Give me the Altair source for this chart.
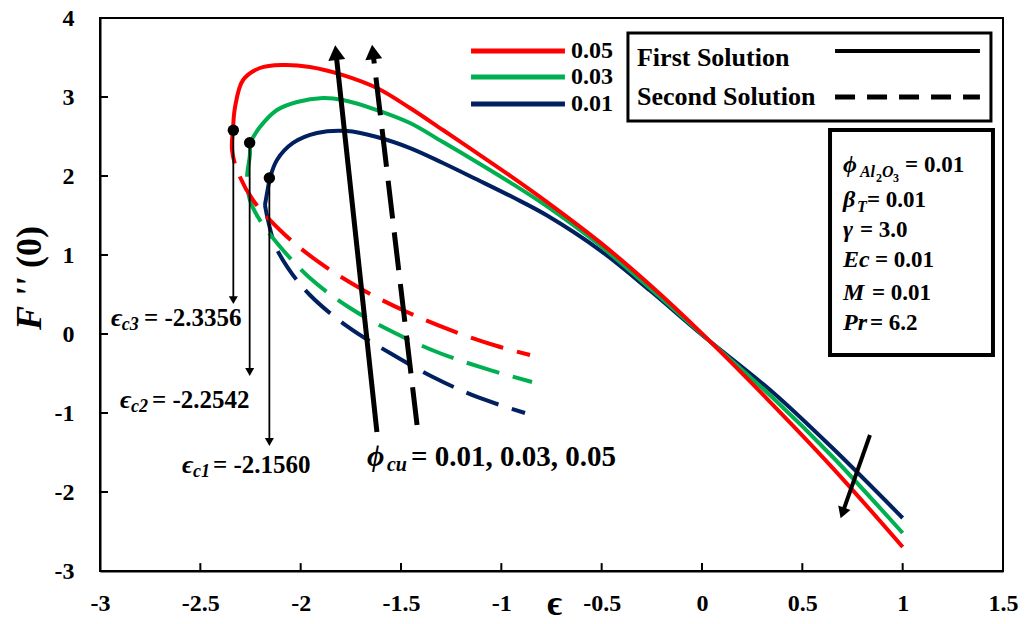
import altair as alt
import pandas as pd

# ---------------- data ----------------
phi_labels = ["0.05", "0.03", "0.01"]
colors = ["#FF0000", "#00B050", "#002060"]
eps_c = [-2.3356, -2.2542, -2.1560]
dot_y = [2.58, 2.42, 1.975]
arrow_tip_y = [0.43, -0.481, -1.367]

x_ticks = [-3, -2.5, -2, -1.5, -1, -0.5, 0, 0.5, 1, 1.5]
y_ticks = [-3, -2, -1, 0, 1, 2, 3, 4]

# first solution (solid)
red_first_x = [-2.337, -2.327, -2.287, -2.203, -2.088, -1.954, -1.789, -1.620, -1.455, -1.291, -1.121, -0.957, -0.772, -0.508, -0.259, -0.010, 0.324, 0.653, 1.0]
red_first_y = [2.582, 2.873, 3.215, 3.367, 3.405, 3.380, 3.278, 3.114, 2.861, 2.582, 2.290, 2.005, 1.670, 1.160, 0.620, 0.030, -0.820, -1.700, -2.696]
green_first_x = [-2.253, -2.203, -2.118, -2.018, -1.889, -1.789, -1.620, -1.455, -1.291, -1.121, -0.957, -0.772, -0.508, -0.259, -0.010, 0.354, 0.653, 1.0]
green_first_y = [2.418, 2.620, 2.835, 2.937, 2.987, 2.962, 2.835, 2.671, 2.430, 2.175, 1.920, 1.615, 1.120, 0.580, 0.020, -0.810, -1.560, -2.519]
blue_first_x = [-2.178, -2.163, -2.153, -2.118, -2.038, -1.919, -1.769, -1.620, -1.455, -1.291, -1.121, -0.942, -0.772, -0.508, -0.259, -0.010, 0.354, 0.653, 1.0]
blue_first_y = [1.633, 1.848, 1.975, 2.203, 2.418, 2.544, 2.570, 2.494, 2.354, 2.165, 1.955, 1.730, 1.500, 1.060, 0.550, 0.010, -0.740, -1.450, -2.329]

# second solution (dashed)
red_second_x = [-2.337, -2.342, -2.317, -2.238, -2.088, -1.904, -1.689, -1.470, -1.256, -1.022, -0.857]
red_second_y = [2.582, 2.329, 2.076, 1.696, 1.278, 0.899, 0.557, 0.278, 0.051, -0.152, -0.266]
green_second_x = [-2.253, -2.253, -2.267, -2.253, -2.213, -2.118, -1.954, -1.754, -1.540, -1.321, -1.091, -0.847]
green_second_y = [2.418, 2.266, 1.987, 1.696, 1.481, 1.152, 0.709, 0.329, 0.025, -0.228, -0.430, -0.608]
blue_second_x = [-2.178, -2.163, -2.128, -2.063, -1.954, -1.764, -1.555, -1.341, -1.121, -0.882]
blue_second_y = [1.633, 1.443, 1.127, 0.835, 0.494, 0.089, -0.241, -0.544, -0.797, -1.0]

# ---------------- scales / axes ----------------
xs = alt.Scale(domain=[-3, 1.5], nice=False, zero=False)
ys = alt.Scale(domain=[-3, 4], nice=False, zero=False)
SERIF = "Liberation Serif"

xaxis = alt.Axis(values=x_ticks, labelExpr="'' + datum.value", title="ϵ",
                 titleX=454, titleY=32, titleBaseline="middle", titleAlign="center",
                 titleFontSize=36, titleFontWeight="bold", titleFont=SERIF, titleColor="black",
                 labelFont=SERIF, labelFontSize=24, labelFontWeight="bold", labelColor="black",
                 labelPadding=20, ticks=False, domainColor="black", domainWidth=2, grid=False,
                 labelFlush=False, labelOverlap=False)
yaxis = alt.Axis(values=y_ticks, labelExpr="'' + datum.value", title=None,
                 labelFont=SERIF, labelFontSize=24, labelFontWeight="bold", labelColor="black",
                 labelPadding=26, ticks=False, domainColor="black", domainWidth=2, grid=False,
                 labelFlush=False, labelOverlap=False)


def X(f="x"):
    return alt.X(f"{f}:Q", scale=xs, axis=xaxis)


def Y(f="y"):
    return alt.Y(f"{f}:Q", scale=ys, axis=yaxis)


layers = []

# inward ticks
tick_rows = [dict(x=v, x2=v, y=-3, y2=-2.9) for v in x_ticks[1:-1]]
tick_rows += [dict(x=-3, x2=-2.96, y=v, y2=v) for v in y_ticks[1:-1]]
layers.append(alt.Chart(pd.DataFrame(tick_rows)).mark_rule(color="black", strokeWidth=2).encode(
    x=X(), y=Y(), x2="x2:Q", y2="y2:Q"))

# curves (blue first so red is on top)
curves = [
    ("blue", blue_first_x, blue_first_y, blue_second_x, blue_second_y, colors[2]),
    ("green", green_first_x, green_first_y, green_second_x, green_second_y, colors[1]),
    ("red", red_first_x, red_first_y, red_second_x, red_second_y, colors[0]),
]
for name, fx, fy, sx, sy, col in curves:
    d2 = pd.DataFrame({"x": sx, "y": sy, "o": range(len(sx))})
    layers.append(alt.Chart(d2).mark_line(color=col, strokeWidth=4, strokeDash=[34, 14],
                                          interpolate="catmull-rom", strokeCap="butt").encode(
        x=X(), y=Y(), order="o:Q"))
for name, fx, fy, sx, sy, col in curves:
    d1 = pd.DataFrame({"x": fx, "y": fy, "o": range(len(fx))})
    layers.append(alt.Chart(d1).mark_line(color=col, strokeWidth=4,
                                          interpolate="catmull-rom").encode(
        x=X(), y=Y(), order="o:Q"))

# solid black segments (arrows, legend)
seg_x = [eps_c[0], eps_c[1], eps_c[2], -1.620, 0.837, 0.663]
seg_y = [dot_y[0], dot_y[1], dot_y[2], -1.241, -1.278, 3.582]
seg_x2 = [eps_c[0], eps_c[1], eps_c[2], -1.824, 0.700, 1.385]
seg_y2 = [arrow_tip_y[0], arrow_tip_y[1], arrow_tip_y[2], 3.561, -2.266, 3.582]
seg_w = [1.8, 1.8, 1.8, 5, 4, 4]
layers.append(alt.Chart(pd.DataFrame({"x": seg_x, "y": seg_y, "x2": seg_x2, "y2": seg_y2, "w": seg_w}))
              .mark_rule(color="black").encode(x=X(), y=Y(), x2="x2:Q", y2="y2:Q",
                                                size=alt.Size("w:Q", scale=None)))

# dashed big arrow
layers.append(alt.Chart(pd.DataFrame({"x": [-1.420], "y": [-1.152], "x2": [-1.640], "y2": [3.570]}))
              .mark_rule(color="black", strokeWidth=5, strokeDash=[38, 14]).encode(
    x=X(), y=Y(), x2="x2:Q", y2="y2:Q"))
# dashed legend line
layers.append(alt.Chart(pd.DataFrame({"x": [0.663], "y": [3.0], "x2": [1.385], "y2": [3.0]}))
              .mark_rule(color="black", strokeWidth=5, strokeDash=[20, 12]).encode(
    x=X(), y=Y(), x2="x2:Q", y2="y2:Q"))

# colour legend lines
leg_y = [3.582, 3.253, 2.911]
layers.append(alt.Chart(pd.DataFrame({"x": [-1.151] * 3, "x2": [-0.683] * 3, "y": leg_y, "c": colors}))
              .mark_rule(strokeWidth=5).encode(x=X(), y=Y(), x2="x2:Q", y2="y:Q",
                                                color=alt.Color("c:N", scale=None)))

# arrow heads
head_x = [eps_c[0], eps_c[1], eps_c[2], -1.824, -1.640, 0.700]
head_y = [arrow_tip_y[0], arrow_tip_y[1], arrow_tip_y[2], 3.561, 3.570, -2.266]
head_a = [180, 180, 180, 353.8, 353.3, 199.5]
head_s = [81, 81, 81, 289, 289, 169]
layers.append(alt.Chart(pd.DataFrame({"x": head_x, "y": head_y, "a": head_a, "s": head_s}))
              .mark_point(shape="triangle-up", filled=True, color="black", opacity=1, strokeWidth=0)
              .encode(x=X(), y=Y(), angle=alt.Angle("a:Q", scale=None), size=alt.Size("s:Q", scale=None)))

# critical points
layers.append(alt.Chart(pd.DataFrame({"x": eps_c, "y": dot_y}))
              .mark_circle(size=130, color="black", opacity=1).encode(x=X(), y=Y()))

# boxes
layers.append(alt.Chart(pd.DataFrame({"x": [-0.369, 0.638], "x2": [1.440, 1.450],
                                      "y": [3.810, 2.582], "y2": [2.696, -0.266], "w": [3, 4]}))
              .mark_rect(fill="white", fillOpacity=0, stroke="black")
              .encode(x=X(), y=Y(), x2="x2:Q", y2="y2:Q", strokeWidth=alt.StrokeWidth("w:Q", scale=None)))

# texts
ital = [
    ("ϵ", -2.945, 0.203, 26), ("c3", -2.891, 0.114, 18),
    ("ϵ", -2.900, -0.835, 26), ("c2", -2.846, -0.924, 18),
    ("ϵ", -2.591, -1.658, 26), ("c1", -2.537, -1.747, 18),
    ("ϕ", -1.669, -1.557, 30), ("cu", -1.570, -1.658, 20),
    ("ϕ", 0.703, 2.139, 24), ("Al", 0.787, 2.051, 16), ("O", 0.897, 2.051, 16),
    ("β", 0.703, 1.696, 24), ("T", 0.772, 1.608, 16),
    ("γ", 0.703, 1.316, 24), ("Ec", 0.703, 0.937, 24),
    ("M", 0.703, 0.519, 24), ("Pr", 0.703, 0.139, 24),
]
norm = [
    ("= -2.3356", -2.781, 0.203, 25), ("= -2.2542", -2.741, -0.835, 25),
    ("= -2.1560", -2.437, -1.658, 25), ("= 0.01, 0.03, 0.05", -1.450, -1.557, 29),
    ("2", 0.867, 1.975, 12), ("3", 0.952, 1.975, 12),
    ("= 0.01", 1.012, 2.139, 23), ("= 0.01", 0.822, 1.696, 23), ("= 3.0", 0.787, 1.316, 23),
    ("= 0.01", 0.862, 0.937, 23), ("= 0.01", 0.847, 0.519, 23), ("= 6.2", 0.837, 0.139, 23),
    (phi_labels[0], -0.653, leg_y[0], 24), (phi_labels[1], -0.653, leg_y[1], 24),
    (phi_labels[2], -0.653, leg_y[2], 24),
    ("First Solution", -0.324, 3.494, 26), ("Second Solution", -0.324, 3.0, 26),
]
for rows, style in [(ital, "italic"), (norm, "normal")]:
    df = pd.DataFrame(rows, columns=["t", "x", "y", "fs"])
    layers.append(alt.Chart(df).mark_text(align="left", baseline="middle", font=SERIF,
                                          fontWeight="bold", fontStyle=style, color="black")
                  .encode(x=X(), y=Y(), text="t:N", size=alt.Size("fs:Q", scale=None)))

# y-axis title F''(0), rotated
ytitle = [("F ''", -3.349, 0.051, "italic"), ("(0)", -3.349, 0.835, "normal")]
for t, tx, ty, st in ytitle:
    layers.append(alt.Chart(pd.DataFrame({"t": [t], "x": [tx], "y": [ty]}))
                  .mark_text(align="left", baseline="middle", angle=270, font=SERIF, fontSize=36,
                             fontWeight="bold", fontStyle=st, color="black")
                  .encode(x=X(), y=Y(), text="t:N"))

chart = alt.layer(*layers).properties(
    width=903, height=553,
    autosize=alt.AutoSizeParams(type="none"),
    padding={"left": 100, "top": 18, "right": 23, "bottom": 53},
    background="white",
).configure_view(stroke="black", strokeWidth=2)

chart.save("out.html", embed_options={"renderer": "svg", "actions": False})
